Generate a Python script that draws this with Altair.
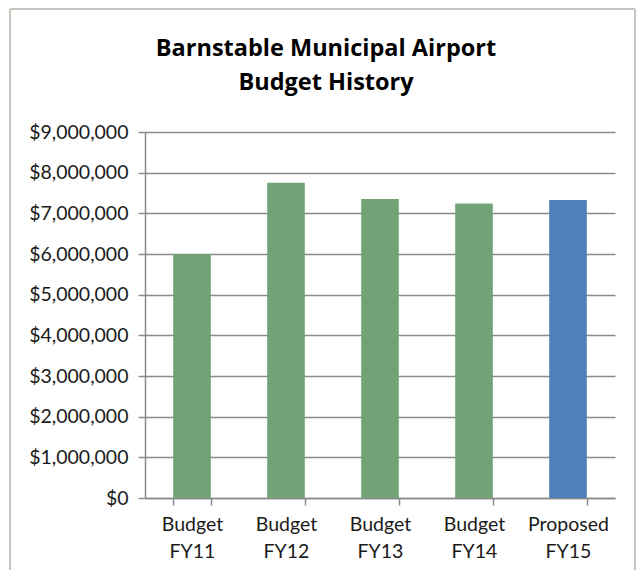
import altair as alt
import pandas as pd

categories = ["Budget FY11", "Budget FY12", "Budget FY13", "Budget FY14", "Proposed FY15"]
values = [6000000, 7750000, 7350000, 7240000, 7330000]
kinds = ["Budget", "Budget", "Budget", "Budget", "Proposed"]

df = pd.DataFrame({"cat": categories, "value": values, "kind": kinds})

LABEL_FONT = "Lato"
TITLE_FONT = "Open Sans"
GRID = "#8A8A8A"

bars = alt.Chart(df).mark_bar().encode(
    x=alt.X("cat:N", sort=categories, title=None,
            scale=alt.Scale(paddingInner=0.6, paddingOuter=0.3),
            axis=alt.Axis(labelAngle=0, labelExpr="split(datum.label, ' ')",
                          tickBand="extent", tickSize=7, labelPadding=10,
                          labelLineHeight=27, grid=False)),
    y=alt.Y("value:Q", title=None,
            scale=alt.Scale(domain=[0, 9000000], nice=False),
            axis=alt.Axis(format="$,.0f", values=list(range(0, 9000001, 1000000)),
                          tickSize=7, labelPadding=10, grid=True)),
    color=alt.Color("kind:N", legend=None,
                    scale=alt.Scale(domain=["Budget", "Proposed"], range=["#72A376", "#4F81BD"])),
)

FRAME = "#C4C4BE"
frame_top = alt.Chart(df).mark_rule(color=FRAME, strokeWidth=1.5).encode(
    x=alt.value(-135), x2=alt.value(490), y=alt.value(-123)
)
frame_left = alt.Chart(df).mark_rule(color=FRAME, strokeWidth=1.5).encode(
    x=alt.value(-135), y=alt.value(-123), y2=alt.value(438)
)
frame_right = alt.Chart(df).mark_rule(color=FRAME, strokeWidth=1.5).encode(
    x=alt.value(490), y=alt.value(-123), y2=alt.value(438)
)

chart = alt.layer(frame_top, frame_left, frame_right, bars).properties(
    width=470, height=366,
    padding={"left": 1, "top": 0, "right": 0, "bottom": 0},
    title=alt.TitleParams(["Barnstable Municipal Airport", "Budget History"],
                          font=TITLE_FONT, fontSize=23.5, fontWeight="bold", color="#000000",
                          anchor="middle", frame="group", lineHeight=34, offset=0,
                          dx=-54, dy=86),
).configure_axis(
    labelFont=LABEL_FONT, labelFontSize=19.5, labelColor="#1a1a1a",
    domainColor=GRID, domainWidth=1.5, tickColor=GRID, tickWidth=1.5,
    gridColor=GRID, gridWidth=1.5,
).configure_view(stroke=None)

chart.save("out.html", embed_options={"renderer": "svg", "actions": False})
